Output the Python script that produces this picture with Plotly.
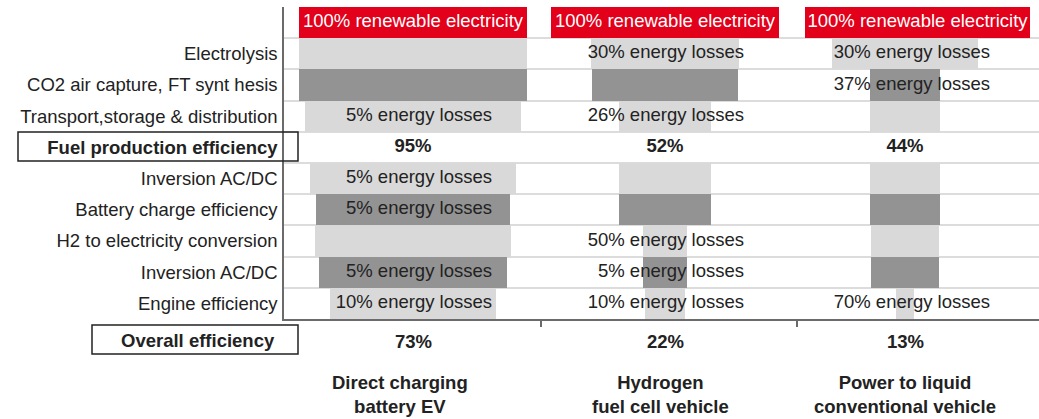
import plotly.graph_objects as go

# ---------------- data ----------------
columns = ["Direct charging<br>battery EV",
           "Hydrogen<br>fuel cell vehicle",
           "Power to liquid<br>conventional vehicle"]

row_labels = ["", "Electrolysis", "CO2 air capture, FT synt hesis",
              "Transport,storage & distribution", "<b>Fuel production efficiency</b>",
              "Inversion AC/DC", "Battery charge efficiency",
              "H2 to electricity conversion", "Inversion AC/DC", "Engine efficiency"]
row_kind = ["source", "light", "dark", "light", None,
            "light", "dark", "light", "dark", "light"]

# drawn bar widths, % of the input electricity bar
bev_width = [100, 100, 100, 95, None, 90, 85.5, 86, 82.5, 73]
fcev_width = [100, 64.7, 64, 40.4, None, 40.4, 40.4, 19.7, 19.3, 17.5]
ptl_width = [99, 64, 30.3, 30.3, None, 30.3, 30.3, 29.4, 29.8, 8.3]

header_text = "100% renewable electricity"
bev_loss = ["", "", "", "5% energy losses", "", "5% energy losses", "5% energy losses",
            "", "5% energy losses", "10% energy losses"]
fcev_loss = ["", "30% energy losses", "", "26% energy losses", "", "", "",
             "50% energy losses", "5% energy losses", "10% energy losses"]
ptl_loss = ["", "30% energy losses", "37% energy losses", "", "", "", "", "", "",
            "70% energy losses"]

fuel_eff = ["95%", "52%", "44%"]
overall_eff = ["73%", "22%", "13%"]

widths = [bev_width, fcev_width, ptl_width]
losses = [bev_loss, fcev_loss, ptl_loss]

# ---------------- layout constants ----------------
W, H = 1039, 419
L, R, T, B = 284, 0, 7, 100
PW, PH = W - L - R, H - T - B
PX_PER_UNIT = 2.28                     # 100 % == 228 px
X_MAX = PW / PX_PER_UNIT
SLOT = 256.5 / PX_PER_UNIT
COL_CENTER = [(413 - L) / PX_PER_UNIT, (665 - L) / PX_PER_UNIT, (905 - L) / PX_PER_UNIT]
HEADER_SHIFT = [0, 0, 5.5]
LABEL_RIGHT = [79 / PX_PER_UNIT, 79 / PX_PER_UNIT, 85 / PX_PER_UNIT]
CAT_X_PX = [400, 660, 905]

RED, LIGHT, DARK = "#e2001a", "#d9d9d9", "#939393"
AXIS = "#6b6b6b"
TXT = "#222222"
FONT = "Liberation Sans, Arial, sans-serif"
FS = 18.5
colour = {"source": RED, "light": LIGHT, "dark": DARK}


def px_x(px):
    return (px - L) / PW


def px_y(px):
    return (T + PH - px) / PH


rows = list(range(len(row_labels)))
fig = go.Figure()

for c, wlist in enumerate(widths):
    centers = [COL_CENTER[c] + (HEADER_SHIFT[c] if row_kind[r] == "source" else 0) for r in rows]
    base = [None if w is None else centers[r] - w / 2 for r, w in enumerate(wlist)]
    fig.add_trace(go.Bar(
        y=rows, x=wlist, base=base, orientation="h", width=1.0,
        marker=dict(color=[colour.get(k, LIGHT) if k else LIGHT for k in row_kind], line=dict(width=0)),
        hoverinfo="skip", showlegend=False))

    # header text
    fig.add_trace(go.Scatter(
        x=[COL_CENTER[c] + HEADER_SHIFT[c]], y=[0], mode="text", text=[header_text],
        textposition="middle center", textfont=dict(family=FONT, size=FS, color="white"),
        hoverinfo="skip", showlegend=False, cliponaxis=False))

    # loss labels (right aligned)
    ly = [r for r in rows if losses[c][r]]
    fig.add_trace(go.Scatter(
        x=[COL_CENTER[c] + LABEL_RIGHT[c]] * len(ly), y=ly, mode="text",
        text=[losses[c][r] for r in ly], textposition="middle left",
        textfont=dict(family=FONT, size=FS, color=TXT),
        hoverinfo="skip", showlegend=False, cliponaxis=False))

    # fuel production efficiency
    fig.add_trace(go.Scatter(
        x=[COL_CENTER[c]], y=[4], mode="text", text=["<b>%s</b>" % fuel_eff[c]],
        textposition="middle center", textfont=dict(family=FONT, size=FS, color=TXT),
        hoverinfo="skip", showlegend=False, cliponaxis=False))

    # overall efficiency
    fig.add_annotation(x=COL_CENTER[c], xref="x", y=px_y(341), yref="paper",
                       text="<b>%s</b>" % overall_eff[c], showarrow=False,
                       xanchor="center", yanchor="middle",
                       font=dict(family=FONT, size=FS, color=TXT))
    # category label
    fig.add_annotation(x=px_x(CAT_X_PX[c]), xref="paper", y=px_y(394), yref="paper",
                       text="<b>%s</b>" % columns[c], showarrow=False,
                       xanchor="center", yanchor="middle", align="center",
                       font=dict(family=FONT, size=FS, color=TXT))

fig.add_annotation(x=px_x(277), xref="paper", y=px_y(340), yref="paper",
                   text="<b>Overall efficiency</b>", showarrow=False,
                   xanchor="right", yanchor="middle",
                   font=dict(family=FONT, size=FS, color=TXT))

fig.add_shape(type="rect", xref="paper", yref="paper",
              x0=px_x(18), x1=px_x(298), y0=px_y(161), y1=px_y(132),
              line=dict(color=TXT, width=1.5))
fig.add_shape(type="rect", xref="paper", yref="paper",
              x0=px_x(92), x1=px_x(298), y0=px_y(354), y1=px_y(325),
              line=dict(color=TXT, width=1.5))

fig.update_layout(
    width=W, height=H, margin=dict(l=L, r=R, t=T, b=B, autoexpand=False),
    paper_bgcolor="white", plot_bgcolor="white", barmode="overlay", bargap=0,
    font=dict(family=FONT, size=FS, color=TXT),
    xaxis=dict(range=[0, X_MAX], showgrid=False, zeroline=False, showline=True,
               linecolor=AXIS, linewidth=1.5, tickmode="array", tickvals=[SLOT, 2 * SLOT],
               ticks="outside", ticklen=6, tickcolor=AXIS, tickwidth=1.5,
               showticklabels=False, fixedrange=True),
    yaxis=dict(range=[len(rows) - 0.5, -0.5], tickmode="array", tickvals=rows,
               ticktext=row_labels, showgrid=False, zeroline=False, showline=True,
               linecolor=AXIS, linewidth=1.5, ticks="", ticklabelstandoff=1,
               tickfont=dict(family=FONT, size=FS, color=TXT),
               minor=dict(tickmode="array", tickvals=[r + 0.5 for r in rows[:-1]],
                          showgrid=True, gridcolor="#dcdcdc", gridwidth=1.5, ticks=""),
               fixedrange=True),
)

fig.write_html("out.html", config={"displayModeBar": False},
               post_script="document.body.style.margin='0';document.body.style.overflow='hidden';")
